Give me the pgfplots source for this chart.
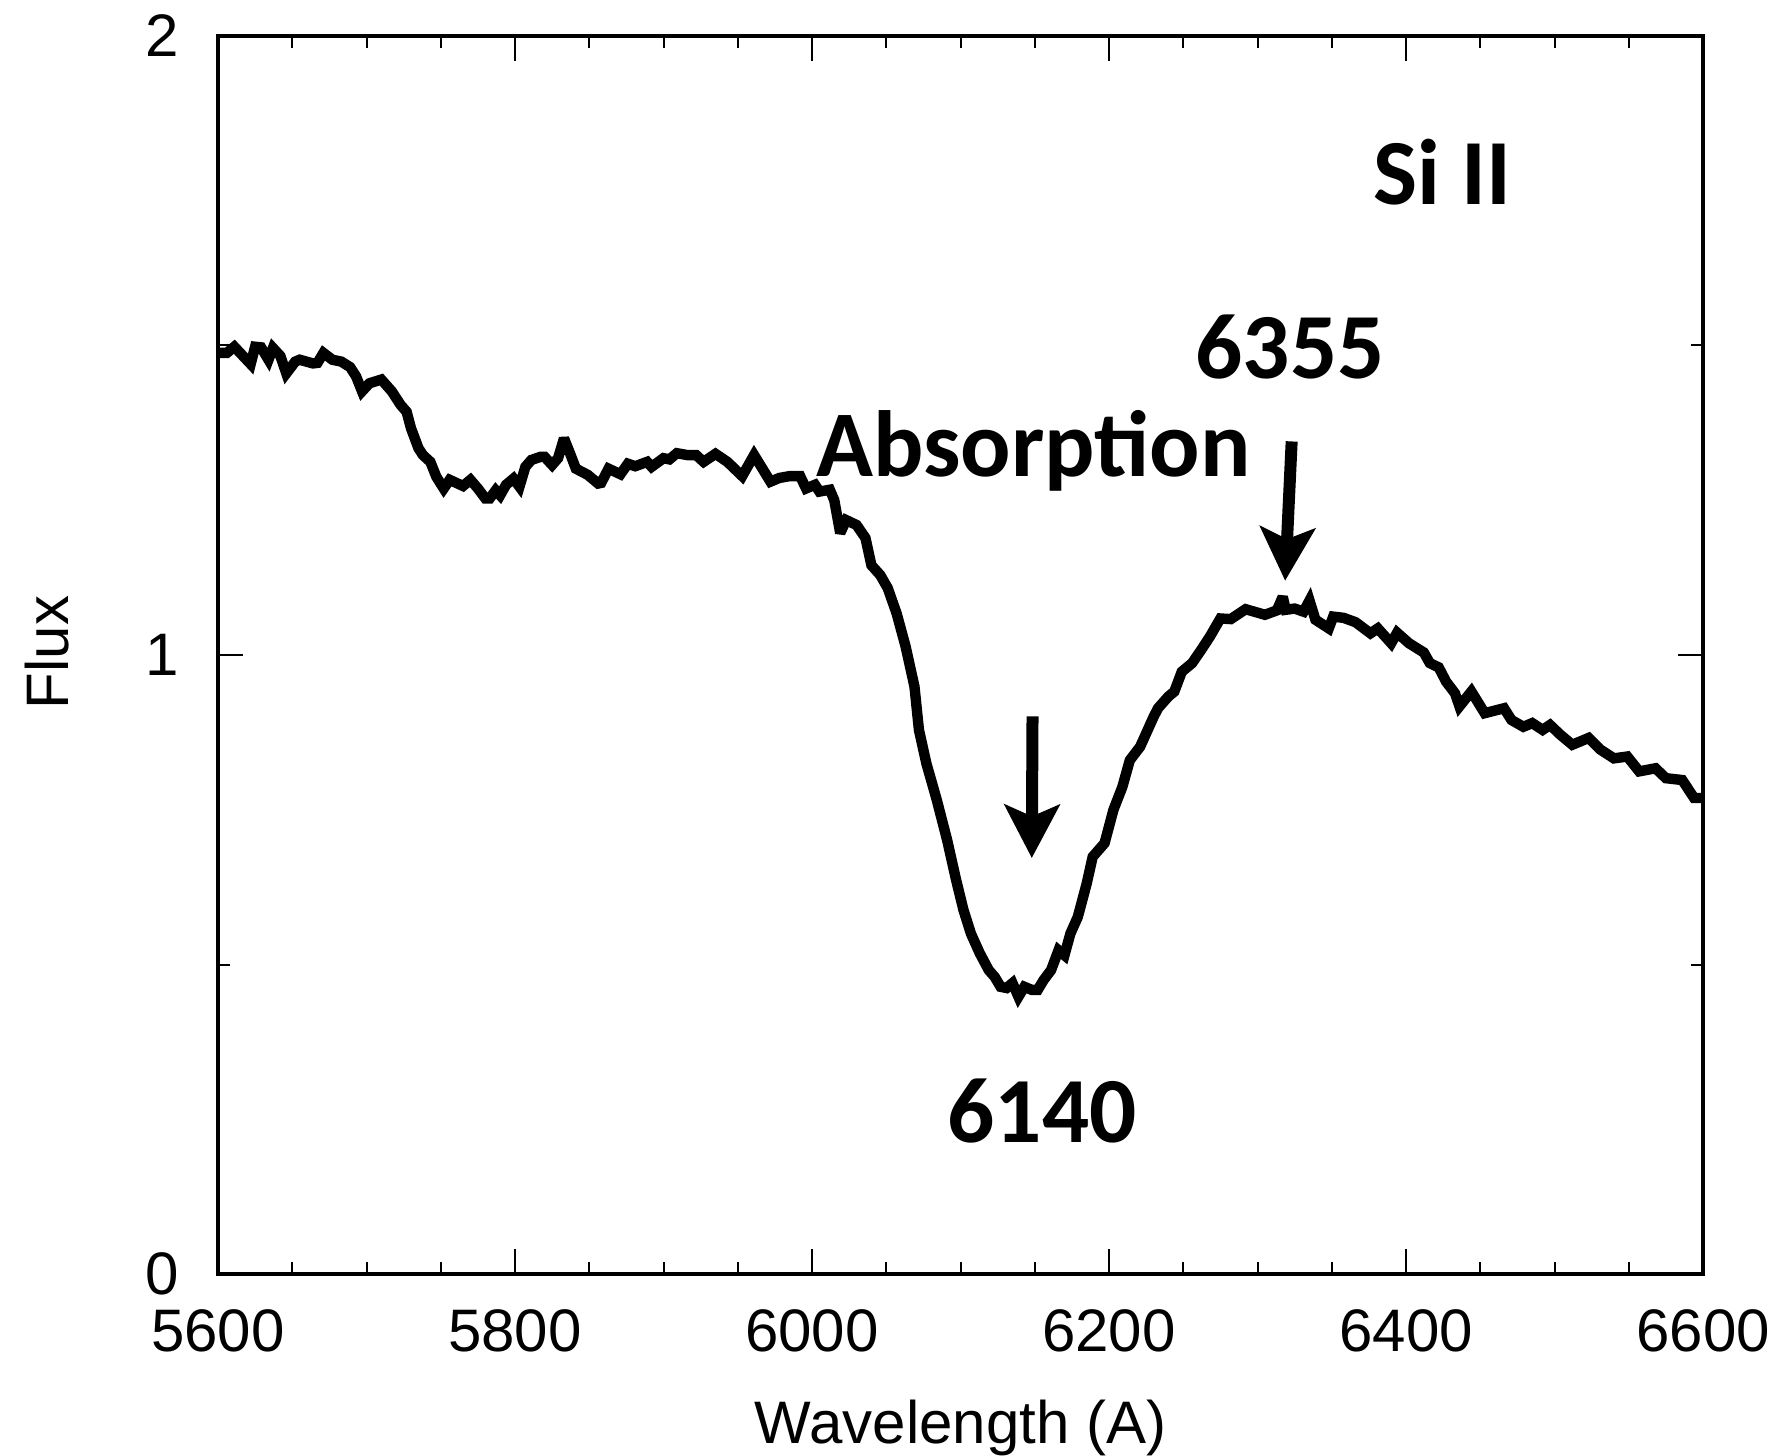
\documentclass[border=0pt]{standalone}
\usepackage{fontspec}
\setmainfont{Liberation Sans}
\newfontfamily\calib{Carlito}
\usepackage{pgfplots}
\pgfplotsset{compat=1.18}
\usetikzlibrary{arrows.meta}

\begin{document}
\begin{tikzpicture}
\useasboundingbox (-54.5pt,-45.25pt) rectangle (391.75pt,318.5pt);
\begin{axis}[
  scale only axis, width=371.25pt, height=309.5pt,
  at={(0,0)}, anchor=south west,
  xmin=5600, xmax=6600, ymin=0, ymax=2,
  xtick={5600,5800,...,6600}, ytick={0,1,2},
  minor x tick num=3, minor y tick num=1,
  major tick length=6.25pt, minor tick length=2.9pt,
  tick style={line width=0.5pt, black},
  axis line style={line width=1pt},
  tick align=inside,
  /pgf/number format/assume math mode=true,
  /pgf/number format/1000 sep={},
  ticklabel style={font=\fontsize{15}{18}\selectfont, inner sep=0pt},
  xticklabel style={yshift=-8.75pt},
  yticklabel style={xshift=-9.5pt},
  xlabel={Wavelength (A)}, ylabel={Flux},
  label style={font=\fontsize{15}{18}\selectfont},
  xlabel style={at={(axis description cs:0.5,-0.137)}, anchor=base},
  ylabel style={at={(axis description cs:-0.101,0.502)}, anchor=base},
]
\addplot[black, line width=2.6pt, line join=miter, miter limit=3, mark=none] coordinates {
(5600,1.488) (5606,1.488) (5611,1.498) (5622,1.470) (5625,1.498) (5629,1.497)
(5634,1.477) (5637,1.496) (5642,1.483) (5646,1.455) (5652,1.474) (5655,1.477)
(5664,1.471) (5667,1.472) (5671,1.488) (5677,1.477) (5683,1.474) (5689,1.465)
(5693,1.450) (5697,1.426) (5702,1.439) (5710,1.445) (5717,1.426) (5723,1.404)
(5727,1.393) (5730,1.366) (5735,1.334) (5738,1.323) (5743,1.312) (5747,1.288)
(5752,1.269) (5756,1.283) (5765,1.273) (5770,1.283) (5775,1.269) (5780,1.253)
(5783,1.253) (5787,1.266) (5790,1.258) (5794,1.275) (5799,1.285) (5803,1.272)
(5807,1.304) (5811,1.315) (5817,1.320) (5820,1.320) (5825,1.307) (5829,1.318)
(5833,1.350) (5837,1.326) (5841,1.301) (5849,1.291) (5856,1.277) (5858,1.278)
(5863,1.301) (5871,1.292) (5876,1.309) (5881,1.305) (5889,1.312) (5892,1.304)
(5900,1.318) (5904,1.316) (5909,1.326) (5916,1.323) (5922,1.323) (5927,1.312)
(5935,1.325) (5943,1.312) (5953,1.289) (5961,1.323) (5972,1.280) (5978,1.286)
(5985,1.289) (5992,1.289) (5996,1.269) (6002,1.275) (6005,1.264) (6012,1.267)
(6015,1.250) (6019,1.197) (6023,1.218) (6030,1.210) (6036,1.189) (6040,1.145)
(6046,1.129) (6051,1.108) (6057,1.067) (6063,1.014) (6069,0.949) (6072,0.879)
(6077,0.825) (6084,0.766) (6091,0.701) (6097,0.637) (6102,0.588) (6107,0.550)
(6113,0.518) (6119,0.491) (6123,0.480) (6127,0.464) (6131,0.462) (6135,0.470)
(6139,0.448) (6143,0.464) (6148,0.459) (6152,0.459) (6156,0.475) (6161,0.491)
(6166,0.523) (6170,0.515) (6174,0.550) (6179,0.577) (6185,0.631) (6189,0.674)
(6197,0.696) (6203,0.750) (6209,0.787) (6214,0.830) (6221,0.852) (6230,0.900)
(6233,0.914) (6240,0.933) (6244,0.941) (6249,0.973) (6256,0.987) (6262,1.008)
(6268,1.030) (6275,1.059) (6282,1.058) (6292,1.074) (6305,1.065) (6313,1.072)
(6317,1.094) (6319,1.073) (6325,1.075) (6331,1.070) (6335,1.088) (6339,1.057)
(6348,1.043) (6351,1.062) (6358,1.060) (6366,1.053) (6376,1.035) (6381,1.043)
(6390,1.019) (6394,1.036) (6402,1.019) (6412,1.004) (6416,0.987) (6422,0.980)
(6427,0.957) (6433,0.938) (6436,0.917) (6444,0.941) (6453,0.906) (6466,0.914)
(6471,0.895) (6479,0.884) (6485,0.890) (6492,0.879) (6497,0.887) (6504,0.871)
(6512,0.855) (6523,0.866) (6531,0.847) (6540,0.833) (6549,0.836) (6557,0.812)
(6568,0.817) (6575,0.801) (6586,0.798) (6594,0.769) (6600,0.769)
};
\node[font=\calib\bfseries\fontsize{23.3}{27}\selectfont, anchor=base, inner sep=0pt] at (axis cs:6424.6,1.727) {Si II};
\node[font=\calib\bfseries\fontsize{23.3}{27}\selectfont, anchor=base, inner sep=0pt] at (axis cs:6322,1.446) {6355};
\node[font=\calib\bfseries\fontsize{23.5}{27}\selectfont, anchor=base, inner sep=0pt] at (axis cs:6149,1.289) {Absorption};
\node[font=\calib\bfseries\fontsize{23.3}{27}\selectfont, anchor=base, inner sep=0pt] at (axis cs:6155,0.213) {6140};
\draw[black, line width=3pt, -{Stealth[length=13.3pt,width=13.7pt,inset=2.9pt]}] (axis cs:6148.5,0.901) -- (axis cs:6148,0.672);
\draw[black, line width=3pt, -{Stealth[length=13.3pt,width=13.7pt,inset=2.9pt]}] (axis cs:6323,1.345) -- (axis cs:6318.6,1.120);
\end{axis}
\end{tikzpicture}
\end{document}
